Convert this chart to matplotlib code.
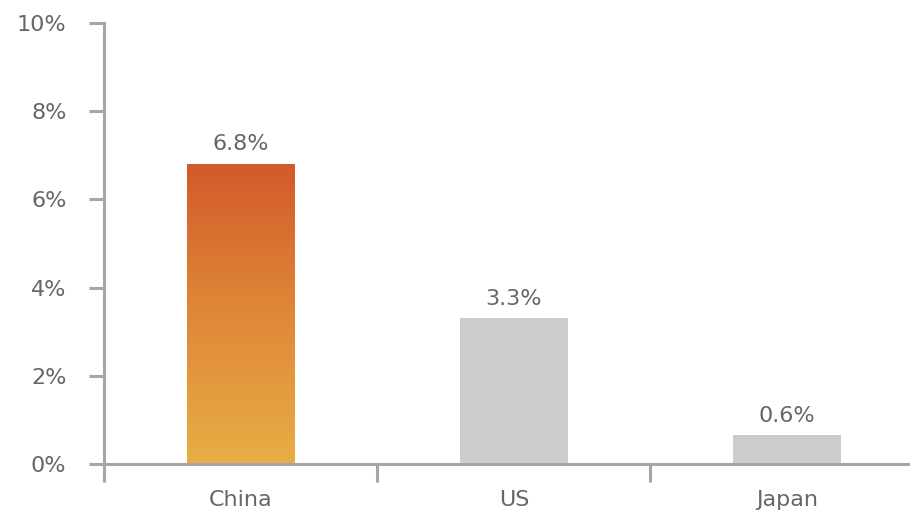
import matplotlib
matplotlib.use("Agg")
import matplotlib.pyplot as plt
import numpy as np
from matplotlib.colors import LinearSegmentedColormap

categories = ["China", "US", "Japan"]
values = [6.8, 3.3, 0.65]
value_labels = ["6.8%", "3.3%", "0.6%"]
yticks = [0, 2, 4, 6, 8, 10]
ytick_labels = ["0%", "2%", "4%", "6%", "8%", "10%"]

axis_color = "#A6A6A6"
text_color = "#666666"
gray_bar = "#CCCCCC"

plt.rcParams['font.family'] = ['DejaVu Sans']

fig = plt.figure(figsize=(9.1, 5.11), dpi=100)
ax = fig.add_axes([104/910, 1-464/511, 1-104/910, (464-23)/511])

x = np.arange(len(categories))
colors = ["none", gray_bar, gray_bar]
bars = ax.bar(x, values, width=0.395, color=colors, zorder=1)

# gradient for the first bar
cmap = LinearSegmentedColormap.from_list("g", ["#E8AE45", "#DF8838", "#D35A2A"])
b = bars[0]
grad = np.linspace(0, 1, 256).reshape(-1, 1)
ax.imshow(grad, cmap=cmap, origin="lower", aspect="auto",
          extent=[b.get_x(), b.get_x() + b.get_width(), 0, b.get_height()], zorder=1)

for xi, v, lab in zip(x, values, value_labels):
    ax.annotate(lab, (xi, v), xytext=(0, 7), textcoords="offset points",
                ha="center", va="bottom", fontsize=16, color=text_color)

ax.set_xlim(-0.5, 2.45)
ax.set_ylim(0, 10)
ax.set_yticks(yticks)
ax.set_yticklabels(ytick_labels)
ax.set_xticks(x)
ax.set_xticklabels(categories)
ax.set_xticks([-0.5, 0.5, 1.5], minor=True)

for s in ["top", "right"]:
    ax.spines[s].set_visible(False)
for s in ["left", "bottom"]:
    ax.spines[s].set_color(axis_color)
    ax.spines[s].set_linewidth(2.2)
    ax.spines[s].set_zorder(3)

ax.tick_params(axis="y", direction="out", length=11, width=2.2, color=axis_color,
               labelcolor=text_color, labelsize=16, pad=16)
ax.tick_params(axis="x", which="major", length=0, labelcolor=text_color,
               labelsize=16, pad=19)
ax.tick_params(axis="x", which="minor", direction="out", length=13, width=2.2,
               color=axis_color)

fig.savefig("out.png", dpi=100)
